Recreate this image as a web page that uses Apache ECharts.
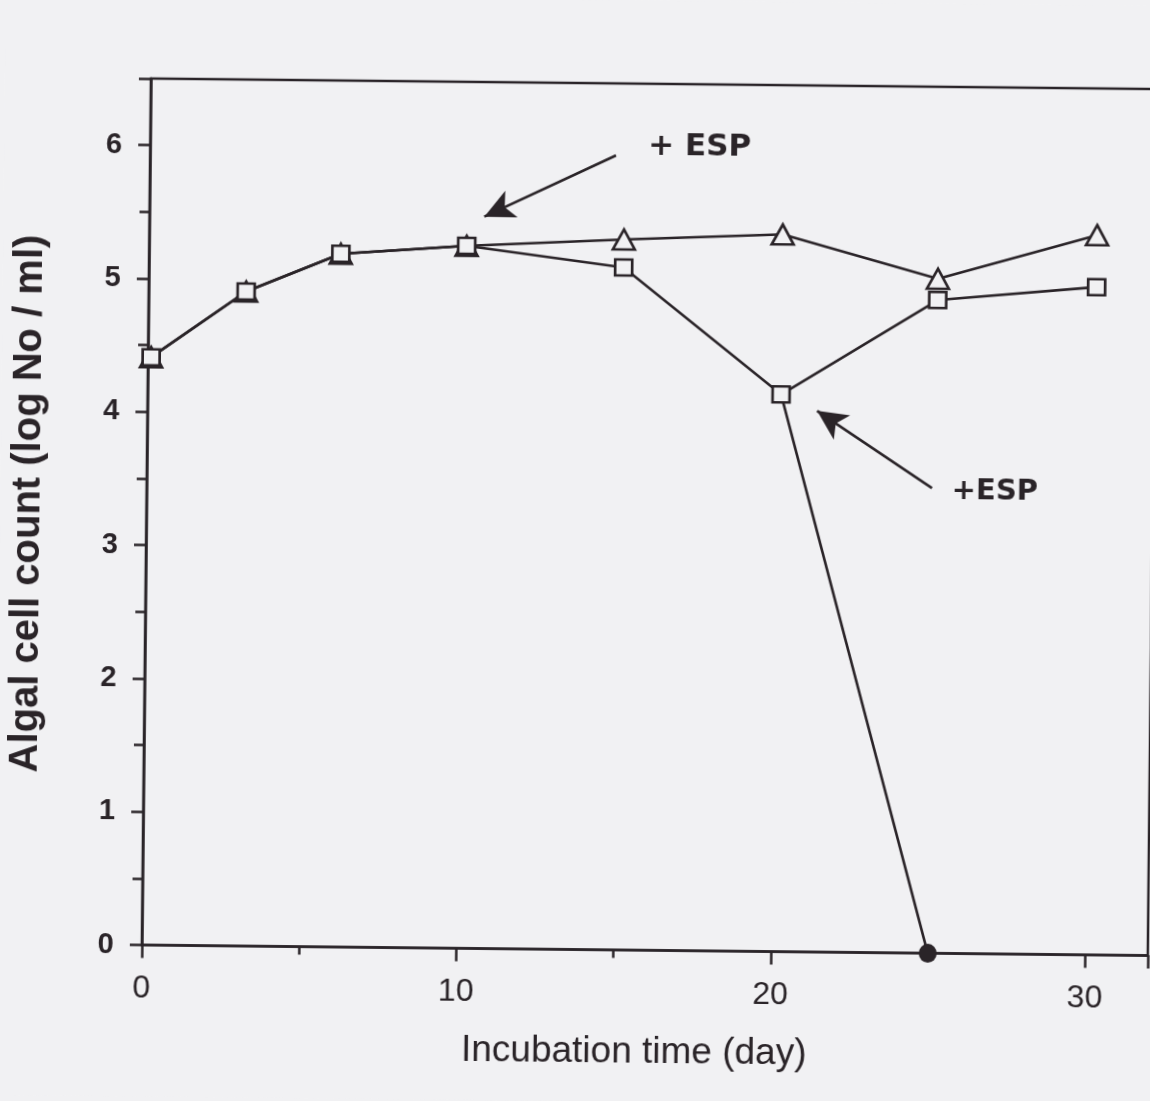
<!DOCTYPE html>
<html>
<head>
<meta charset="utf-8">
<script src="https://cdn.jsdelivr.net/npm/echarts@6/dist/echarts.min.js"></script>
<style>
  html, body { margin: 0; padding: 0; background: #f1f1f3; overflow: hidden; }
  #chart { width: 1160px; height: 1101px; transform: rotate(0.6deg); transform-origin: 575px 550px; }
</style>
</head>
<body>
<div id="chart"></div>
<script>
// ---- data ----
const days = [0.1, 3.1, 6.1, 10.1, 15.1, 20.15, 25.1, 30.15];
const triangleCounts = [4.41, 4.91, 5.20, 5.27, 5.33, 5.38, 5.06, 5.40];
const squareCounts   = [4.41, 4.91, 5.20, 5.27, 5.12, 4.18, 4.90, 5.01];
const crashDays   = [20.15, 25.0];
const crashCounts = [4.18, 0];

const xTickValues = [0, 10, 20, 30];
const yTickValues = [0, 1, 2, 3, 4, 5, 6];

// annotations (data coordinates)
const annotationLabels = ['+ ESP', '+ESP'];
const annotationTextAt = [[17.48, 6.03], [26.98, 3.47]];
const arrowFrom = [[14.82, 5.96], [24.98, 3.49]];
const arrowTo   = [[10.65, 5.49], [21.30, 4.06]];

// ---- chart ----
const ink = '#2a2428';
const bg = '#f1f1f3';
const zip = (xs, ys) => xs.map((x, i) => [x, ys[i]]);

const chart = echarts.init(document.getElementById('chart'), null, { renderer: 'canvas' });

const option = {
  backgroundColor: bg,
  animation: false,
  grid: {
    left: 144, top: 83, width: 1008, height: 866.6,
    show: true, borderColor: ink, borderWidth: 2.5, backgroundColor: 'transparent'
  },
  xAxis: [
    {
      type: 'value', min: 0, max: 32, interval: 10, position: 'bottom',
      name: 'Incubation time (day)', nameLocation: 'middle', nameGap: 84,
      nameTextStyle: { fontFamily: 'Liberation Sans, Arial, sans-serif', fontSize: 37, color: ink, padding: [0, 20, 0, 0] },
      axisLine: { show: true, onZero: false, lineStyle: { color: ink, width: 2.5 } },
      axisTick: { show: true, inside: false, length: 13, lineStyle: { color: ink, width: 2.5 } },
      axisLabel: {
        margin: 28, fontFamily: 'Liberation Sans, Arial, sans-serif', fontSize: 32, color: ink,
        formatter: v => (xTickValues.indexOf(v) >= 0 ? String(v) : '')
      },
      splitLine: { show: false }
    },
    {
      type: 'value', min: 0, max: 32, interval: 5, position: 'bottom', gridIndex: 0,
      axisLine: { show: false },
      axisTick: { show: true, length: 8, lineStyle: { color: ink, width: 2.5 } },
      axisLabel: { show: false },
      splitLine: { show: false }
    }
  ],
  yAxis: [
    {
      type: 'value', min: 0, max: 6.5, interval: 1, position: 'left',
      name: 'Algal cell count (log No / ml)', nameLocation: 'middle', nameGap: 98,
      nameTextStyle: { fontFamily: 'Liberation Sans, Arial, sans-serif', fontSize: 40, fontWeight: 'bold', color: ink, padding: [0, 0, 0, 14] },
      axisLine: { show: true, onZero: false, lineStyle: { color: ink, width: 2.5 } },
      axisTick: { show: true, length: 12, lineStyle: { color: ink, width: 2.5 } },
      axisLabel: {
        margin: 28, fontFamily: 'Liberation Sans, Arial, sans-serif', fontSize: 29, fontWeight: 'bold', color: ink,
        formatter: v => (yTickValues.indexOf(v) >= 0 ? String(v) : '')
      },
      splitLine: { show: false }
    },
    {
      type: 'value', min: 0, max: 6.5, interval: 0.5, position: 'left', gridIndex: 0,
      axisLine: { show: false },
      axisTick: { show: true, length: 10, lineStyle: { color: ink, width: 2.5 } },
      axisLabel: { show: false },
      splitLine: { show: false }
    }
  ],
  series: [
    {
      name: 'crash',
      type: 'line', xAxisIndex: 0, yAxisIndex: 0, clip: false,
      data: zip(crashDays, crashCounts).map((p, i) => i === 0 ? { value: p, symbol: 'none' } : { value: p }),
      symbol: 'circle', symbolSize: [18, 19],
      lineStyle: { color: ink, width: 2.6 },
      itemStyle: { color: ink, borderColor: ink, borderWidth: 0 },
      z: 3
    },
    {
      name: 'triangle',
      type: 'line', xAxisIndex: 0, yAxisIndex: 0, clip: false,
      data: zip(days, triangleCounts),
      symbol: 'triangle', symbolSize: [22, 20],
      lineStyle: { color: ink, width: 2.6 },
      itemStyle: { color: bg, borderColor: ink, borderWidth: 2.6 },
      z: 4
    },
    {
      name: 'square',
      type: 'line', xAxisIndex: 0, yAxisIndex: 0, clip: false,
      data: zip(days, squareCounts),
      symbol: 'rect', symbolSize: [17, 16],
      lineStyle: { color: ink, width: 2.6 },
      itemStyle: { color: bg, borderColor: ink, borderWidth: 2.6 },
      z: 5,
      markLine: {
        silent: true,
        symbol: ['none', 'arrow'],
        symbolSize: [22, 30],
        lineStyle: { color: ink, width: 2.6, type: 'solid' },
        label: { show: false },
        data: arrowFrom.map((f, i) => [{ coord: f }, { coord: arrowTo[i] }])
      },
      markPoint: {
        silent: true,
        symbol: 'rect', symbolSize: 1,
        itemStyle: { color: 'transparent' },
        label: {
          show: true, position: 'inside', color: ink,
          fontFamily: 'DejaVu Sans, Liberation Sans, sans-serif', fontWeight: 'bold',
          formatter: p => p.name
        },
        data: annotationLabels.map((t, i) => ({
          name: t, coord: annotationTextAt[i],
          label: { fontSize: i === 0 ? 31 : 29 }
        }))
      }
    }
  ]
};

chart.setOption(option);
</script>
</body>
</html>
